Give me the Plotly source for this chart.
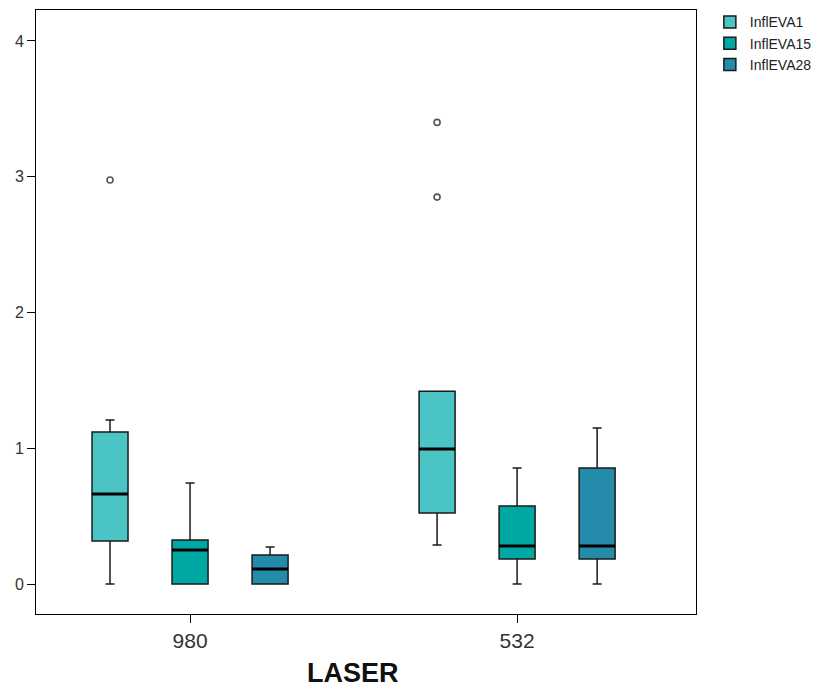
import plotly.graph_objects as go

categories = ["980", "532"]
series = ["InflEVA1", "InflEVA15", "InflEVA28"]
colors = ["#4BC4C6", "#00A8A4", "#248BAB"]
x_title = "LASER"

lowerfence = {"InflEVA1": [0.0, 0.287], "InflEVA15": [0.0, 0.0], "InflEVA28": [0.0, 0.0]}
q1 = {"InflEVA1": [0.317, 0.523], "InflEVA15": [0.0, 0.184], "InflEVA28": [0.0, 0.184]}
median = {"InflEVA1": [0.663, 0.994], "InflEVA15": [0.25, 0.28], "InflEVA28": [0.11, 0.28]}
q3 = {"InflEVA1": [1.12, 1.42], "InflEVA15": [0.324, 0.574], "InflEVA28": [0.214, 0.854]}
upperfence = {"InflEVA1": [1.208, 1.42], "InflEVA15": [0.744, 0.854], "InflEVA28": [0.273, 1.149]}
outliers = {"InflEVA1": [[2.976], [3.40, 2.85]], "InflEVA15": None, "InflEVA28": None}

fig = go.Figure()
for s, c in zip(series, colors):
    kw = {}
    if outliers[s] is not None:
        kw["y"] = outliers[s]
        kw["boxpoints"] = "outliers"
    else:
        kw["boxpoints"] = False
    fig.add_trace(go.Box(
        name=s, x=categories,
        q1=q1[s], median=median[s], q3=q3[s],
        lowerfence=lowerfence[s], upperfence=upperfence[s],
        fillcolor=c, line=dict(color="#1a1a1a", width=1.5),
        marker=dict(symbol="circle-open", color="#555555", size=6,
                    line=dict(width=1.6, color="#555555")),
        whiskerwidth=0.25, offsetgroup=s, legendgroup=s,
        hoverinfo="y", **kw,
    ))
for s in series:
    fig.add_trace(go.Box(
        name=s, x=categories,
        q1=median[s], median=median[s], q3=median[s],
        lowerfence=median[s], upperfence=median[s],
        boxpoints=False,
        fillcolor="rgba(0,0,0,0)", line=dict(color="#000000", width=3),
        whiskerwidth=0, offsetgroup=s, legendgroup=s, showlegend=False,
        hoverinfo="skip",
    ))

fig.update_layout(
    width=814, height=680,
    margin=dict(l=28, r=126, t=2, b=74, autoexpand=False),
    paper_bgcolor="white", plot_bgcolor="white",
    boxmode="group", boxgap=0.266, boxgroupgap=0.55,
    font=dict(family="Liberation Sans, Arial, sans-serif", color="#333333"),
    legend=dict(x=1.021, y=1.006, xanchor="left", yanchor="top",
                font=dict(size=14, color="#222222"), tracegroupgap=0,
                itemwidth=30, bgcolor="rgba(0,0,0,0)"),
    showlegend=True,
    annotations=[dict(text="<b>%s</b>" % x_title, xref="paper", yref="paper",
                      x=0.480, y=-0.0977, xanchor="center", yanchor="middle",
                      showarrow=False, font=dict(size=27, color="#111111"))],
)
fig.update_xaxes(
    type="category", range=[-0.471, 1.547], automargin=False,
    showline=True, linecolor="#000000", linewidth=1, mirror=True,
    ticks="outside", ticklen=8, tickcolor="#000000",
    tickfont=dict(size=21, color="#333333"),
    showgrid=False, zeroline=False,
)
fig.update_yaxes(
    range=[-0.221, 4.228], tickvals=[0, 1, 2, 3, 4], automargin=False,
    showline=True, linecolor="#000000", linewidth=1, mirror=True,
    ticks="outside", ticklen=8, tickcolor="#000000",
    tickfont=dict(size=16, color="#333333"),
    showgrid=False, zeroline=False,
)

fig.write_html("out.html")
